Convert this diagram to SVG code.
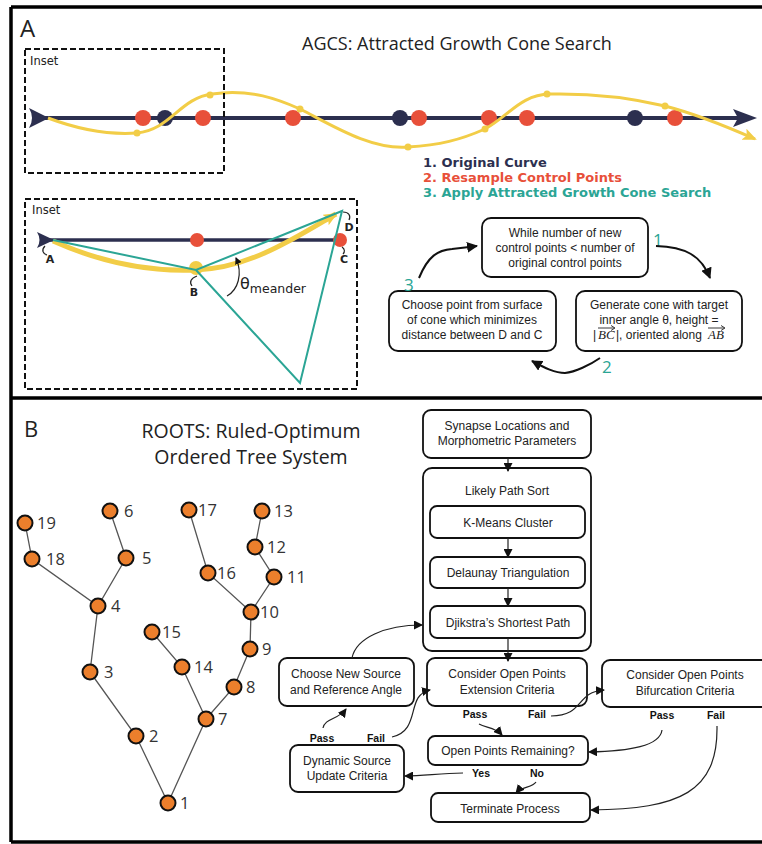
<svg xmlns="http://www.w3.org/2000/svg" width="762" height="844" viewBox="0 0 762 844">
<defs>
<style>
.frame{stroke:#000;stroke-width:3.5;fill:none}
.dash{stroke:#111;stroke-width:2;fill:none;stroke-dasharray:6,3}
.navy{stroke:#2c2f4f}
.yel{stroke:#f2cd47;fill:none}
.teal{stroke:#2ba595;stroke-width:2;fill:none}
.box{fill:#fff;stroke:#111;stroke-width:1.8}
.t{font-family:"Liberation Sans",Arial,sans-serif;font-size:12px;fill:#222;text-anchor:middle}
.ts{font-family:"Liberation Sans",Arial,sans-serif;font-size:12px;fill:#222;text-anchor:start}
.mi{font-family:"Liberation Serif","Times New Roman",serif;font-style:italic;font-size:13px;fill:#222;text-anchor:start}
.lab{font-family:"Liberation Sans",Arial,sans-serif;font-size:10.5px;font-weight:bold;fill:#111;text-anchor:middle}
.ttl{font-family:"Open Sans",sans-serif;fill:#222}
.num{font-family:"Open Sans",sans-serif;font-size:16.5px;fill:#333}
.cyc{font-family:"Open Sans",sans-serif;font-size:17px;fill:#2ba595}
.leg{font-family:"DejaVu Sans",sans-serif;font-size:13px;font-weight:bold}
.dj{font-family:"DejaVu Sans",sans-serif;fill:#222}
.edge{stroke:#555;stroke-width:1.3;fill:none}
.node{fill:#ec7f2c;stroke:#111;stroke-width:2}
.c1{stroke:#111;stroke-width:2;fill:none}
.c2{stroke:#222;stroke-width:1.2;fill:none}
</style>
<marker id="ah" markerUnits="userSpaceOnUse" markerWidth="11" markerHeight="11" refX="10" refY="5.5" orient="auto"><path d="M0,0 L11,5.5 L0,11 z" fill="#111"/></marker>
<marker id="ahs" markerUnits="userSpaceOnUse" markerWidth="9" markerHeight="9" refX="8" refY="4.5" orient="auto"><path d="M0,0 L9,4.5 L0,9 z" fill="#111"/></marker>
<marker id="ahy" markerUnits="userSpaceOnUse" markerWidth="14" markerHeight="12" refX="12" refY="6" orient="auto"><path d="M0,0 L14,6 L0,12 L3,6 z" fill="#f2cd47"/></marker>
<marker id="aht" markerUnits="userSpaceOnUse" markerWidth="7" markerHeight="7" refX="6" refY="3.5" orient="auto"><path d="M0,0 L7,3.5 L0,7 z" fill="#111"/></marker>
</defs>

<!-- frame -->
<g id="frame">
<path class="frame" d="M11,7 H762 M11,7 V842 M11,398 H762 M11,842 H762"/>
</g>

<!-- Panel A -->
<g id="panelA">
<text class="ttl" x="20" y="37" font-size="24">A</text>
<text class="ttl" x="302" y="50" font-size="18">AGCS: Attracted Growth Cone Search</text>

<g id="main-curve">
<line class="navy" x1="40" y1="118" x2="740" y2="118" stroke-width="4"/>
<path d="M29,108 L49,118 L29,128 Q35,118 29,108 Z" fill="#2c2f4f"/>
<path d="M757,118 L733,109 L738,118 L733,127 Z" fill="#2c2f4f"/>
<g fill="#2c2f4f">
<circle cx="165" cy="118" r="8"/><circle cx="400" cy="118" r="8"/><circle cx="635" cy="118" r="8"/>
</g>
<g fill="#e8503a">
<circle cx="143" cy="118" r="8"/><circle cx="203" cy="118" r="8"/><circle cx="293" cy="118" r="8"/>
<circle cx="419" cy="118" r="8"/><circle cx="489" cy="118" r="8"/><circle cx="527" cy="118" r="8"/><circle cx="675" cy="118" r="8"/>
</g>
<path class="yel" stroke-width="3" marker-end="url(#ahy)" d="M48,118 C80,130 110,135 137,133 C170,130 180,98 212,94 C250,88 280,100 300,109 C330,124 370,150 408,147 C440,145 460,140 485,129 C510,115 520,95 550,94 C600,93 640,100 665,106 C700,115 730,128 755,139"/>
<g fill="#f2cd47">
<circle cx="137" cy="133" r="3.5"/><circle cx="210" cy="95" r="3.5"/><circle cx="300" cy="109" r="3.5"/>
<circle cx="408" cy="147" r="3.5"/><circle cx="485" cy="129" r="3.5"/><circle cx="547" cy="94" r="3.5"/><circle cx="665" cy="106" r="3.5"/>
</g>
</g>

<g id="inset1">
<rect class="dash" x="25" y="49" width="199" height="124"/>
<text class="dj" x="30" y="65" font-size="11.5">Inset</text>
</g>

<g id="legend">
<text class="leg" x="423" y="167" fill="#2c2f4f">1. Original Curve</text>
<text class="leg" x="423" y="182" fill="#e8503a">2. Resample Control Points</text>
<text class="leg" x="423" y="197" fill="#2ba595">3. Apply Attracted Growth Cone Search</text>
</g>

<g id="inset2">
<rect class="dash" x="25" y="199" width="332" height="190"/>
<text class="dj" x="32" y="214" font-size="11.5">Inset</text>
<line class="navy" x1="45" y1="240" x2="340" y2="240" stroke-width="3.5"/>
<path d="M37,232 L54,240 L37,248 Q42,240 37,232 Z" fill="#2c2f4f"/>
<circle cx="197" cy="240" r="7" fill="#e8503a"/>
<circle cx="340" cy="240" r="7" fill="#e8503a"/>
<path class="yel" stroke-width="5" marker-end="url(#ahy)" d="M53,241 C100,262 150,272 196,270 C250,268 295,238 336,214"/>
<circle cx="196" cy="268" r="7" fill="#f2cd47"/>
<path class="teal" d="M53,240 L196,270 L342,211 L300,383 L196,270"/>
<path class="c2" d="M45,246 C41,250 43,254 47,255"/>
<path class="c2" d="M197,276 C191,278 189,282 192,286"/>
<path class="c2" d="M342,247 C345,249 345,252 343,254"/>
<path class="c2" d="M343,212 C349,212 351,216 349,220"/>
<g class="dj" font-size="11" font-weight="bold" text-anchor="middle">
<text x="50" y="263">A</text>
<text x="194" y="296">B</text>
<text x="344" y="263">C</text>
<text x="349" y="231">D</text>
</g>
<path class="c2" stroke-width="1.3" marker-end="url(#aht)" d="M227,296 C238,290 243,274 236,258"/>
<text class="dj" x="240" y="289" font-size="16">θ<tspan font-size="12.5" dy="4">meander</tspan></text>
</g>

<g id="a-box1">
<rect class="box" x="482" y="218" width="166" height="59" rx="9"/>
<text class="t" x="565" y="237">While number of new</text>
<text class="t" x="565" y="252">control points &lt; number of</text>
<text class="t" x="565" y="267">original control points</text>
</g>
<g id="a-box2">
<rect class="box" x="389" y="291" width="167" height="60" rx="9"/>
<text class="t" x="472" y="309">Choose point from surface</text>
<text class="t" x="472" y="324">of cone which minimizes</text>
<text class="t" x="472" y="339">distance between D and C</text>
</g>
<g id="a-box3">
<rect class="box" x="576" y="291" width="166" height="60" rx="9"/>
<text class="t" x="659" y="309">Generate cone with target</text>
<text class="t" x="659" y="324">inner angle θ, height =</text>
<text class="ts" x="593" y="339">|</text>
<text class="mi" x="598" y="339">BC</text>
<text class="ts" x="616" y="339">|, oriented along</text>
<text class="mi" x="708" y="339">AB</text>
<path d="M598,328 H614 M708,328 H724" stroke="#222" stroke-width="0.9"/>
<path d="M611,325.5 L615,328 L611,330.5 M721,325.5 L725,328 L721,330.5" stroke="#222" stroke-width="0.9" fill="none"/>
</g>
<g id="a-cycle-labels">
<text class="cyc" x="653" y="246">1</text>
<text class="cyc" x="602" y="373">2</text>
<text class="cyc" x="404" y="291">3</text>
</g>
<g id="a-connectors">
<path class="c1" marker-end="url(#ah)" d="M656,246 C685,247 701,255 710,278"/>
<path class="c1" marker-end="url(#ah)" d="M600,358 C590,365 575,372 565,373 C555,373 545,368 532,361"/>
<path class="c1" marker-end="url(#ah)" d="M419,278 C428,256 438,250 452,249 C462,248 470,247 477,246"/>
</g>
</g>

<!-- Panel B -->
<g id="panelB">
<text class="ttl" x="24" y="437" font-size="22">B</text>
<text class="ttl" x="251" y="438" font-size="19.5" text-anchor="middle">ROOTS: Ruled-Optimum</text>
<text class="ttl" x="251" y="464" font-size="19.5" text-anchor="middle">Ordered Tree System</text>

<g id="tree-edges">
<path class="edge" d="M25,523 L32,559 L98,606 L126,558 L110,511 M98,606 L90,672 L136,736 L168,803 L206,719 L182,667 L152,632 M206,719 L234,687 L250,649 L251,612 L208,573 L189,510 M251,612 L274,577 L255,547 L262,511"/>
</g>
<g id="n1"><circle class="node" cx="168" cy="803" r="7.5"/><text class="num" x="180" y="809">1</text></g>
<g id="n2"><circle class="node" cx="136" cy="736" r="7.5"/><text class="num" x="149" y="742">2</text></g>
<g id="n3"><circle class="node" cx="90" cy="672" r="7.5"/><text class="num" x="104" y="678">3</text></g>
<g id="n4"><circle class="node" cx="98" cy="606" r="7.5"/><text class="num" x="111" y="612">4</text></g>
<g id="n5"><circle class="node" cx="126" cy="558" r="7.5"/><text class="num" x="142" y="564">5</text></g>
<g id="n6"><circle class="node" cx="110" cy="511" r="7.5"/><text class="num" x="124" y="517">6</text></g>
<g id="n7"><circle class="node" cx="206" cy="719" r="7.5"/><text class="num" x="218" y="725">7</text></g>
<g id="n8"><circle class="node" cx="234" cy="687" r="7.5"/><text class="num" x="246" y="693">8</text></g>
<g id="n9"><circle class="node" cx="250" cy="649" r="7.5"/><text class="num" x="262" y="655">9</text></g>
<g id="n10"><circle class="node" cx="251" cy="612" r="7.5"/><text class="num" x="260" y="618">10</text></g>
<g id="n11"><circle class="node" cx="274" cy="577" r="7.5"/><text class="num" x="287" y="583">11</text></g>
<g id="n12"><circle class="node" cx="255" cy="547" r="7.5"/><text class="num" x="267" y="553">12</text></g>
<g id="n13"><circle class="node" cx="262" cy="511" r="7.5"/><text class="num" x="274" y="517">13</text></g>
<g id="n14"><circle class="node" cx="182" cy="667" r="7.5"/><text class="num" x="194" y="673">14</text></g>
<g id="n15"><circle class="node" cx="152" cy="632" r="7.5"/><text class="num" x="162" y="638">15</text></g>
<g id="n16"><circle class="node" cx="208" cy="573" r="7.5"/><text class="num" x="217" y="579">16</text></g>
<g id="n17"><circle class="node" cx="189" cy="510" r="7.5"/><text class="num" x="198" y="516">17</text></g>
<g id="n18"><circle class="node" cx="32" cy="559" r="7.5"/><text class="num" x="46" y="565">18</text></g>
<g id="n19"><circle class="node" cx="25" cy="523" r="7.5"/><text class="num" x="37" y="529">19</text></g>

<g id="b-synapse">
<rect class="box" x="423" y="410" width="168" height="48" rx="8"/>
<text class="t" x="507" y="430">Synapse Locations and</text>
<text class="t" x="507" y="445">Morphometric Parameters</text>
</g>
<g id="b-likely">
<rect class="box" x="423" y="468" width="168" height="183" rx="9"/>
<text class="t" x="507" y="495">Likely Path Sort</text>
</g>
<g id="b-kmeans">
<rect class="box" x="430" y="506" width="155" height="32" rx="7"/>
<text class="t" x="508" y="527">K-Means Cluster</text>
</g>
<g id="b-delaunay">
<rect class="box" x="430" y="557" width="155" height="31" rx="7"/>
<text class="t" x="508" y="577">Delaunay Triangulation</text>
</g>
<g id="b-djikstra">
<rect class="box" x="430" y="606" width="155" height="32" rx="7"/>
<text class="t" x="508" y="627">Djikstra’s Shortest Path</text>
</g>
<g id="b-extension">
<rect class="box" x="427" y="658" width="160" height="48" rx="8"/>
<text class="t" x="507" y="678">Consider Open Points</text>
<text class="t" x="507" y="694">Extension Criteria</text>
</g>
<g id="b-choose">
<rect class="box" x="279" y="658" width="135" height="48" rx="8"/>
<text class="t" x="346" y="678">Choose New Source</text>
<text class="t" x="346" y="694">and Reference  Angle</text>
</g>
<g id="b-bifurcation">
<rect class="box" x="602" y="660" width="172" height="47" rx="8"/>
<text class="t" x="685" y="679">Consider Open Points</text>
<text class="t" x="685" y="695">Bifurcation Criteria</text>
</g>
<g id="b-remaining">
<rect class="box" x="428" y="736" width="160" height="29" rx="7"/>
<text class="t" x="508" y="755">Open Points Remaining?</text>
</g>
<g id="b-dynamic">
<rect class="box" x="290" y="745" width="114" height="47" rx="8"/>
<text class="t" x="347" y="765">Dynamic Source</text>
<text class="t" x="347" y="780">Update Criteria</text>
</g>
<g id="b-terminate">
<rect class="box" x="431" y="793" width="159" height="29" rx="7"/>
<text class="t" x="510" y="813">Terminate Process</text>
</g>
<g id="b-labels">
<text class="lab" x="475" y="718">Pass</text>
<text class="lab" x="537" y="718">Fail</text>
<text class="lab" x="662" y="719">Pass</text>
<text class="lab" x="716" y="719">Fail</text>
<text class="lab" x="322" y="742">Pass</text>
<text class="lab" x="376" y="742">Fail</text>
<text class="lab" x="481" y="777">Yes</text>
<text class="lab" x="537" y="777">No</text>
</g>
<g id="b-connectors">
<path class="c2" marker-end="url(#ahs)" d="M508,458 V471"/>
<path class="c2" marker-end="url(#ahs)" d="M508,538 V557"/>
<path class="c2" marker-end="url(#ahs)" d="M508,588 V606"/>
<path class="c2" marker-end="url(#ahs)" d="M508,638 V661"/>
<path class="c2" marker-end="url(#ahs)" d="M352,658 C356,638 385,625 422,625"/>
<path class="c2" marker-end="url(#ahs)" d="M323,728 C325,718 338,720 346,709"/>
<path class="c2" marker-end="url(#ahs)" d="M392,737 C422,730 405,695 430,690"/>
<path class="c2" marker-end="url(#ahs)" d="M551,716 C585,716 575,692 604,690"/>
<path class="c2" marker-end="url(#ahs)" d="M479,724 C486,728 495,727 502,735"/>
<path class="c2" marker-end="url(#ahs)" d="M662,730 C660,746 630,751 589,752"/>
<path class="c2" marker-end="url(#ahs)" d="M717,726 C718,792 680,809 591,810"/>
<path class="c2" marker-end="url(#ahs)" d="M463,773 C440,773 425,776 405,776"/>
<path class="c2" marker-end="url(#ahs)" d="M536,782 C532,788 522,786 516,793"/>
</g>
</g>
</svg>
